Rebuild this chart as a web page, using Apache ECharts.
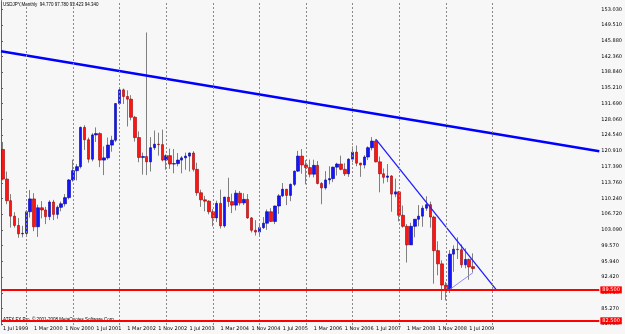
<!DOCTYPE html>
<html>
<head>
<meta charset="utf-8">
<script src="https://cdn.jsdelivr.net/npm/echarts@6/dist/echarts.min.js"></script>
<style>
  html, body { margin: 0; padding: 0; background: #f7f7f7; }
  #chart { width: 625px; height: 334px; }
</style>
</head>
<body>
<div id="chart"></div>
<script>
  // USDJPY monthly, Jul 1999 .. Aug 2009, then empty months (chart shift)
  const monthNames = ['Jan', 'Feb', 'Mar', 'Apr', 'May', 'Jun', 'Jul', 'Aug', 'Sep', 'Oct', 'Nov', 'Dec']
  const monthCount = 154
  const months = []
  for (let i = 0; i < monthCount; i++) {
    const m = (6 + i) % 12
    const y = 1999 + Math.floor((6 + i) / 12)
    months.push('1 ' + monthNames[m] + ' ' + y)
  }

  const opens = [121.3, 114.6, 109.7, 106.2, 104.1, 102.2,
    102.3, 107.2, 110.1, 103.8, 108.1, 107.6, 106.1, 109.4, 106.6, 108.2, 109.0, 110.4,
    114.4, 116.5, 117.4, 126.3, 123.5, 119.1, 124.6, 124.9, 118.9, 119.4, 122.3, 123.4,
    131.7, 134.8, 133.3, 132.7, 128.6, 124.0, 119.5, 119.7, 118.5, 121.7, 122.5, 122.4,
    118.9, 119.9, 118.0, 118.1, 118.9, 119.4, 119.8, 120.5, 116.8, 111.5, 109.9, 109.6,
    107.2, 105.8, 109.1, 104.0, 110.5, 109.5, 108.7, 111.4, 109.2, 110.0, 105.8, 103.0,
    102.6, 103.6, 104.6, 107.2, 105.0, 108.5, 110.8, 112.3, 110.9, 113.4, 116.4, 119.8,
    117.8, 117.2, 115.7, 117.7, 113.6, 112.6, 114.4, 114.7, 117.3, 118.0, 116.8, 115.8,
    119.1, 120.7, 118.2, 117.8, 119.6, 121.7, 123.2, 118.5, 115.8, 115.0, 115.3, 111.2,
    111.7, 106.4, 103.9, 99.7, 103.9, 105.5, 106.2, 108.0, 108.8, 106.0, 98.4, 95.4,
    90.6, 89.6, 97.6, 98.7, 98.6, 95.2, 96.4, 94.77]
  const closes = [114.6, 109.7, 106.2, 104.1, 102.2, 102.3,
    107.2, 110.1, 103.8, 108.1, 107.6, 106.1, 109.4, 106.6, 108.2, 109.0, 110.4, 114.4,
    116.5, 117.4, 126.3, 123.5, 119.1, 124.6, 124.9, 118.9, 119.4, 122.3, 123.4, 131.7,
    134.8, 133.3, 132.7, 128.6, 124.0, 119.5, 119.7, 118.5, 121.7, 122.5, 122.4, 118.9,
    119.9, 118.0, 118.1, 118.9, 119.4, 119.8, 120.5, 116.8, 111.5, 109.9, 109.6, 107.2,
    105.8, 109.1, 104.0, 110.5, 109.5, 108.7, 111.4, 109.2, 110.0, 105.8, 103.0, 102.6,
    103.6, 104.6, 107.2, 105.0, 108.5, 110.8, 112.3, 110.9, 113.4, 116.4, 119.8, 117.8,
    117.2, 115.7, 117.7, 113.6, 112.6, 114.4, 114.7, 117.3, 118.0, 116.8, 115.8, 119.1,
    120.7, 118.2, 117.8, 119.6, 121.7, 123.2, 118.5, 115.8, 115.0, 115.3, 111.2, 111.7,
    106.4, 103.9, 99.7, 103.9, 105.5, 106.2, 108.0, 108.8, 106.0, 98.4, 95.4, 90.6,
    89.6, 97.6, 98.7, 98.6, 95.2, 96.4, 94.7, 94.34]
  const highs = [123.0, 116.3, 111.2, 107.1, 105.8, 104.0,
    107.6, 112.1, 111.4, 108.8, 109.6, 108.3, 109.8, 109.9, 108.6, 109.5, 111.2, 114.6,
    119.0, 118.0, 126.5, 126.8, 124.0, 125.0, 126.3, 125.2, 122.0, 124.0, 124.4, 131.8,
    135.2, 135.1, 134.7, 133.6, 128.9, 125.4, 120.6, 147.8, 124.1, 125.6, 125.1, 125.8,
    120.2, 121.5, 121.4, 120.5, 119.8, 120.6, 120.6, 120.9, 118.3, 112.2, 110.8, 109.8,
    107.8, 109.7, 112.2, 110.6, 114.9, 111.3, 112.1, 111.9, 111.4, 111.2, 106.0, 105.3,
    104.4, 106.0, 107.7, 108.0, 108.6, 111.2, 113.7, 112.3, 113.6, 116.5, 121.0, 121.4,
    118.9, 119.0, 119.0, 118.7, 113.9, 116.4, 117.5, 117.4, 118.3, 119.9, 118.2, 119.3,
    122.0, 122.2, 118.3, 120.0, 122.0, 124.1, 123.6, 119.7, 117.0, 118.0, 115.5, 114.7,
    111.9, 108.6, 104.4, 104.7, 105.5, 108.7, 108.6, 110.7, 109.5, 106.3, 100.5, 96.2,
    91.3, 98.5, 99.6, 101.4, 99.8, 98.9, 96.6, 97.78]
  const lows = [114.3, 108.9, 103.6, 103.6, 101.3, 101.4,
    101.5, 105.9, 102.8, 101.5, 105.7, 104.4, 105.3, 105.3, 105.6, 107.3, 108.4, 110.0,
    114.0, 114.3, 117.0, 121.2, 118.3, 118.6, 123.0, 117.3, 115.5, 119.0, 120.8, 123.0,
    131.4, 131.6, 126.5, 127.9, 123.1, 118.4, 115.6, 115.5, 116.3, 121.2, 119.9, 118.6,
    116.7, 116.9, 115.9, 117.5, 115.9, 116.7, 116.3, 116.3, 110.8, 108.3, 107.3, 106.6,
    103.9, 104.9, 103.4, 103.6, 108.3, 106.9, 107.5, 108.6, 108.7, 105.6, 102.5, 101.8,
    101.7, 103.3, 103.1, 104.9, 104.4, 106.7, 110.5, 108.7, 109.6, 113.0, 116.2, 115.8,
    113.4, 115.0, 115.0, 113.4, 108.9, 112.2, 113.4, 113.9, 115.4, 116.6, 115.3, 115.1,
    118.4, 117.5, 115.1, 117.0, 118.9, 121.1, 118.4, 111.6, 113.6, 113.9, 107.2, 110.5,
    105.0, 103.6, 95.7, 99.7, 101.4, 103.9, 103.8, 107.4, 103.6, 90.9, 92.8, 87.2,
    87.1, 88.8, 93.6, 96.5, 94.5, 94.4, 91.8, 93.423]

  // price scale labels on the right (as printed)
  const yTicks = [153.03, 149.51, 145.88, 142.36, 138.84, 135.21, 131.69, 128.06, 124.54, 120.91,
    117.39, 113.76, 110.24, 106.72, 103.09, 99.57, 95.94, 92.42, 88.79, 85.27, 81.75]
  const levelLines = [89.5, 82.5]
  const lastPrice = 94.34
  const lastGridYear = 2010

  // trend lines: [month, price] anchors
  const trendLong = [['1 Jan 2000', 142.6], ['1 Jan 2009', 126.7]]
  const trendDown = [['1 Jul 2007', 123.6], ['1 Feb 2010', 89.5]]
  const trendSmall = [['1 Feb 2009', 89.6], ['1 Aug 2009', 93.42]]

  const yMin = 81.55, yMax = 154.7

  const pos = (m) => months.indexOf(m) + 0.5
  function lineThrough(pts, extend) {
    const x0 = pos(pts[0][0]), x1 = pos(pts[1][0])
    const k = (pts[1][1] - pts[0][1]) / (x1 - x0)
    if (!extend) return [[x0, pts[0][1]], [x1, pts[1][1]]]
    return [[0, pts[0][1] - k * x0], [monthCount, pts[0][1] + k * (monthCount - x0)]]
  }

  const wicks = opens.map((o, i) => [o, closes[i], lows[i], highs[i]])
  const bodies = opens.map((o, i) => [o, closes[i], Math.min(o, closes[i]), Math.max(o, closes[i])])
  const yearLines = months.filter((m) => m.indexOf(' Jan ') > -1 && +m.slice(-4) <= lastGridYear)

  const chart = echarts.init(document.getElementById('chart'))
  const option = {
    animation: false,
    backgroundColor: '#f7f7f7',
    textStyle: { fontFamily: 'DejaVu Sans' },
    grid: { left: 0, right: 18, top: 2, bottom: 9 },
    xAxis: [{
      type: 'category',
      data: months,
      boundaryGap: true,
      axisLine: { show: false },
      axisTick: { show: false },
      axisLabel: {
        interval: (i) => i % 8 === 0 && i <= 120,
        align: 'left',
        margin: 1,
        fontSize: 5,
        color: '#000'
      },
      splitLine: { show: false }
    }, {
      type: 'value',
      min: 0,
      max: monthCount,
      show: false
    }],
    yAxis: {
      type: 'value',
      position: 'right',
      min: yMin,
      max: yMax,
      axisLine: { show: true, lineStyle: { color: '#606060', width: 1 } },
      axisTick: { show: true, customValues: yTicks, length: 2, lineStyle: { color: '#606060' } },
      axisLabel: {
        customValues: yTicks,
        formatter: (v) => v.toFixed(3),
        margin: 2,
        fontSize: 5,
        color: '#000'
      },
      splitLine: { show: false }
    },
    series: [{
      type: 'candlestick',
      data: wicks,
      barWidth: 1,
      itemStyle: { color: '#808080', color0: '#808080', borderColor: '#808080', borderColor0: '#808080', borderWidth: 1 },
      markLine: {
        silent: true,
        symbol: 'none',
        label: { show: false },
        lineStyle: { type: [2, 2], color: '#8a8a8a', width: 1 },
        data: yearLines.map((m) => ({ xAxis: m }))
      }
    }, {
      type: 'candlestick',
      data: bodies,
      barWidth: 3,
      itemStyle: { color: '#1414ff', color0: '#ff1414', borderColor: '#0000a0', borderColor0: '#a00000', borderWidth: 0.6 },
      markLine: {
        silent: true,
        symbol: 'none',
        data: levelLines.map((v) => ({
          yAxis: v,
          lineStyle: { color: '#ff0000', width: 2, type: 'solid' },
          label: { show: true, position: 'end', distance: 1, formatter: v.toFixed(3), color: '#fff', backgroundColor: '#ff0000', fontSize: 5, padding: [1, 2] }
        })).concat([{
          yAxis: lastPrice,
          lineStyle: { width: 0, opacity: 0 },
          label: { show: true, position: 'end', distance: 1, formatter: lastPrice.toFixed(3), color: '#fff', backgroundColor: '#000', fontSize: 5, padding: [1, 2] }
        }])
      }
    }, {
      type: 'line',
      xAxisIndex: 1,
      data: lineThrough(trendLong, true),
      symbol: 'none',
      lineStyle: { color: '#0000ff', width: 2.5 }
    }, {
      type: 'line',
      xAxisIndex: 1,
      data: lineThrough(trendDown, false),
      symbol: 'none',
      lineStyle: { color: '#1e1eff', width: 1.3 }
    }, {
      type: 'line',
      xAxisIndex: 1,
      data: lineThrough(trendSmall, false),
      symbol: 'none',
      lineStyle: { color: '#8c8cff', width: 1 }
    }],
    graphic: [{
      type: 'line',
      z: -1,
      shape: { x1: 1.5, y1: 0, x2: 1.5, y2: 325 },
      style: { stroke: '#8c8c8c', lineWidth: 1 }
    }, {
      type: 'text',
      left: 3,
      top: 2,
      style: { text: 'USDJPY,Monthly  94.770 97.780 93.423 94.340', fontSize: 4.5, fill: '#000', fontFamily: 'Liberation Sans' }
    }, {
      type: 'text',
      left: 3,
      top: 317,
      style: { text: 'ATFX FX Pro, © 2001-2008 MetaQuotes Software Corp.', fontSize: 4.5, fill: '#000', fontFamily: 'Liberation Sans' }
    }]
  }
  chart.setOption(option)
</script>
</body>
</html>
